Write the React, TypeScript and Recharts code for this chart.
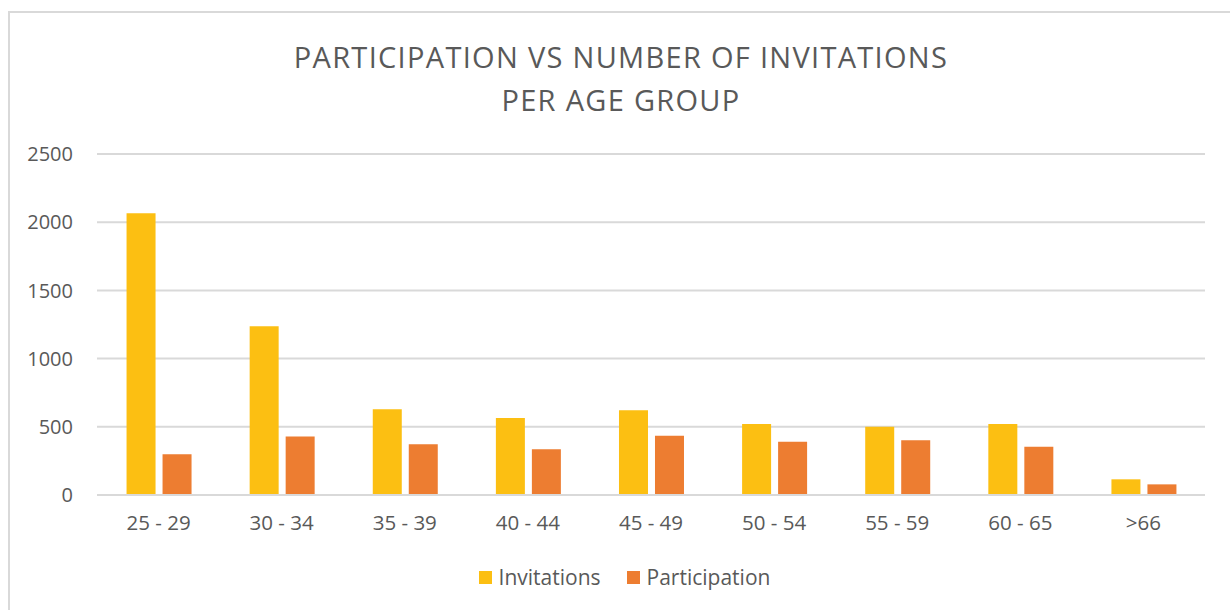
import React from "react";
import { BarChart, Bar, XAxis, YAxis, CartesianGrid, Legend } from "recharts";

const categories = ["25 - 29", "30 - 34", "35 - 39", "40 - 44", "45 - 49", "50 - 54", "55 - 59", "60 - 65", ">66"];
const invitations = [2065, 1237, 628, 565, 621, 520, 501, 520, 115];
const participation = [298, 428, 372, 335, 435, 391, 401, 354, 78];
const yTicks = [0, 500, 1000, 1500, 2000, 2500];
const titleLines = ["PARTICIPATION VS NUMBER OF INVITATIONS", "PER AGE GROUP"];

const data = categories.map((c, i) => ({
  group: c,
  Invitations: invitations[i],
  Participation: participation[i],
}));

const FONT = "'Open Sans', sans-serif";
const TEXT = "#595959";

const renderLegend = (props: any) => {
  const { payload } = props;
  return (
    <div style={{ display: "flex", justifyContent: "center", alignItems: "center", height: 40, fontFamily: FONT, fontSize: 21, color: TEXT, paddingLeft: 44 }}>
      {payload.map((p: any, i: number) => (
        <div key={i} style={{ display: "flex", alignItems: "center", marginLeft: i ? 26 : 0 }}>
          <span style={{ width: 13, height: 13, background: p.color, display: "inline-block", marginRight: 7 }} />
          <span>{p.value}</span>
        </div>
      ))}
    </div>
  );
};

export default function App() {
  return (
    <div style={{ position: "absolute", left: 0, top: 0, width: 1230, height: 610, background: "#fff", overflow: "hidden" }}>
      <div style={{ position: "absolute", left: 8, top: 11, width: 1230, height: 610, borderLeft: "2px solid #D9D9D9", borderTop: "2px solid #D9D9D9" }} />
      <div style={{ position: "absolute", left: 0, top: 35, width: 1242, textAlign: "center", fontFamily: FONT, fontSize: 29, lineHeight: "43px", letterSpacing: 1.3, color: TEXT }}>
        {titleLines.map((t, i) => (
          <div key={i}>{t}</div>
        ))}
      </div>
      <BarChart
        width={1230}
        height={610}
        data={data}
        margin={{ top: 154, right: 25, bottom: 13, left: 0 }}
        barCategoryGap="24%"
        barGap={7}
      >
        <CartesianGrid vertical={false} stroke="#D9D9D9" strokeWidth={2} />
        <XAxis
          dataKey="group"
          height={62}
          tickLine={false}
          axisLine={{ stroke: "#D9D9D9", strokeWidth: 2 }}
          tickSize={0}
          tickMargin={20}
          tick={{ fill: TEXT, fontSize: 20.5, fontFamily: FONT }}
          interval={0}
        />
        <YAxis
          width={97}
          domain={[0, 2500]}
          ticks={yTicks}
          axisLine={false}
          tickLine={false}
          tickSize={0}
          tickMargin={24}
          tick={{ fill: TEXT, fontSize: 20, fontFamily: FONT }}
        />
        <Legend verticalAlign="bottom" height={40} content={renderLegend} />
        <Bar dataKey="Invitations" fill="#FCBF12" isAnimationActive={false} />
        <Bar dataKey="Participation" fill="#ED7D31" isAnimationActive={false} />
      </BarChart>
    </div>
  );
}
